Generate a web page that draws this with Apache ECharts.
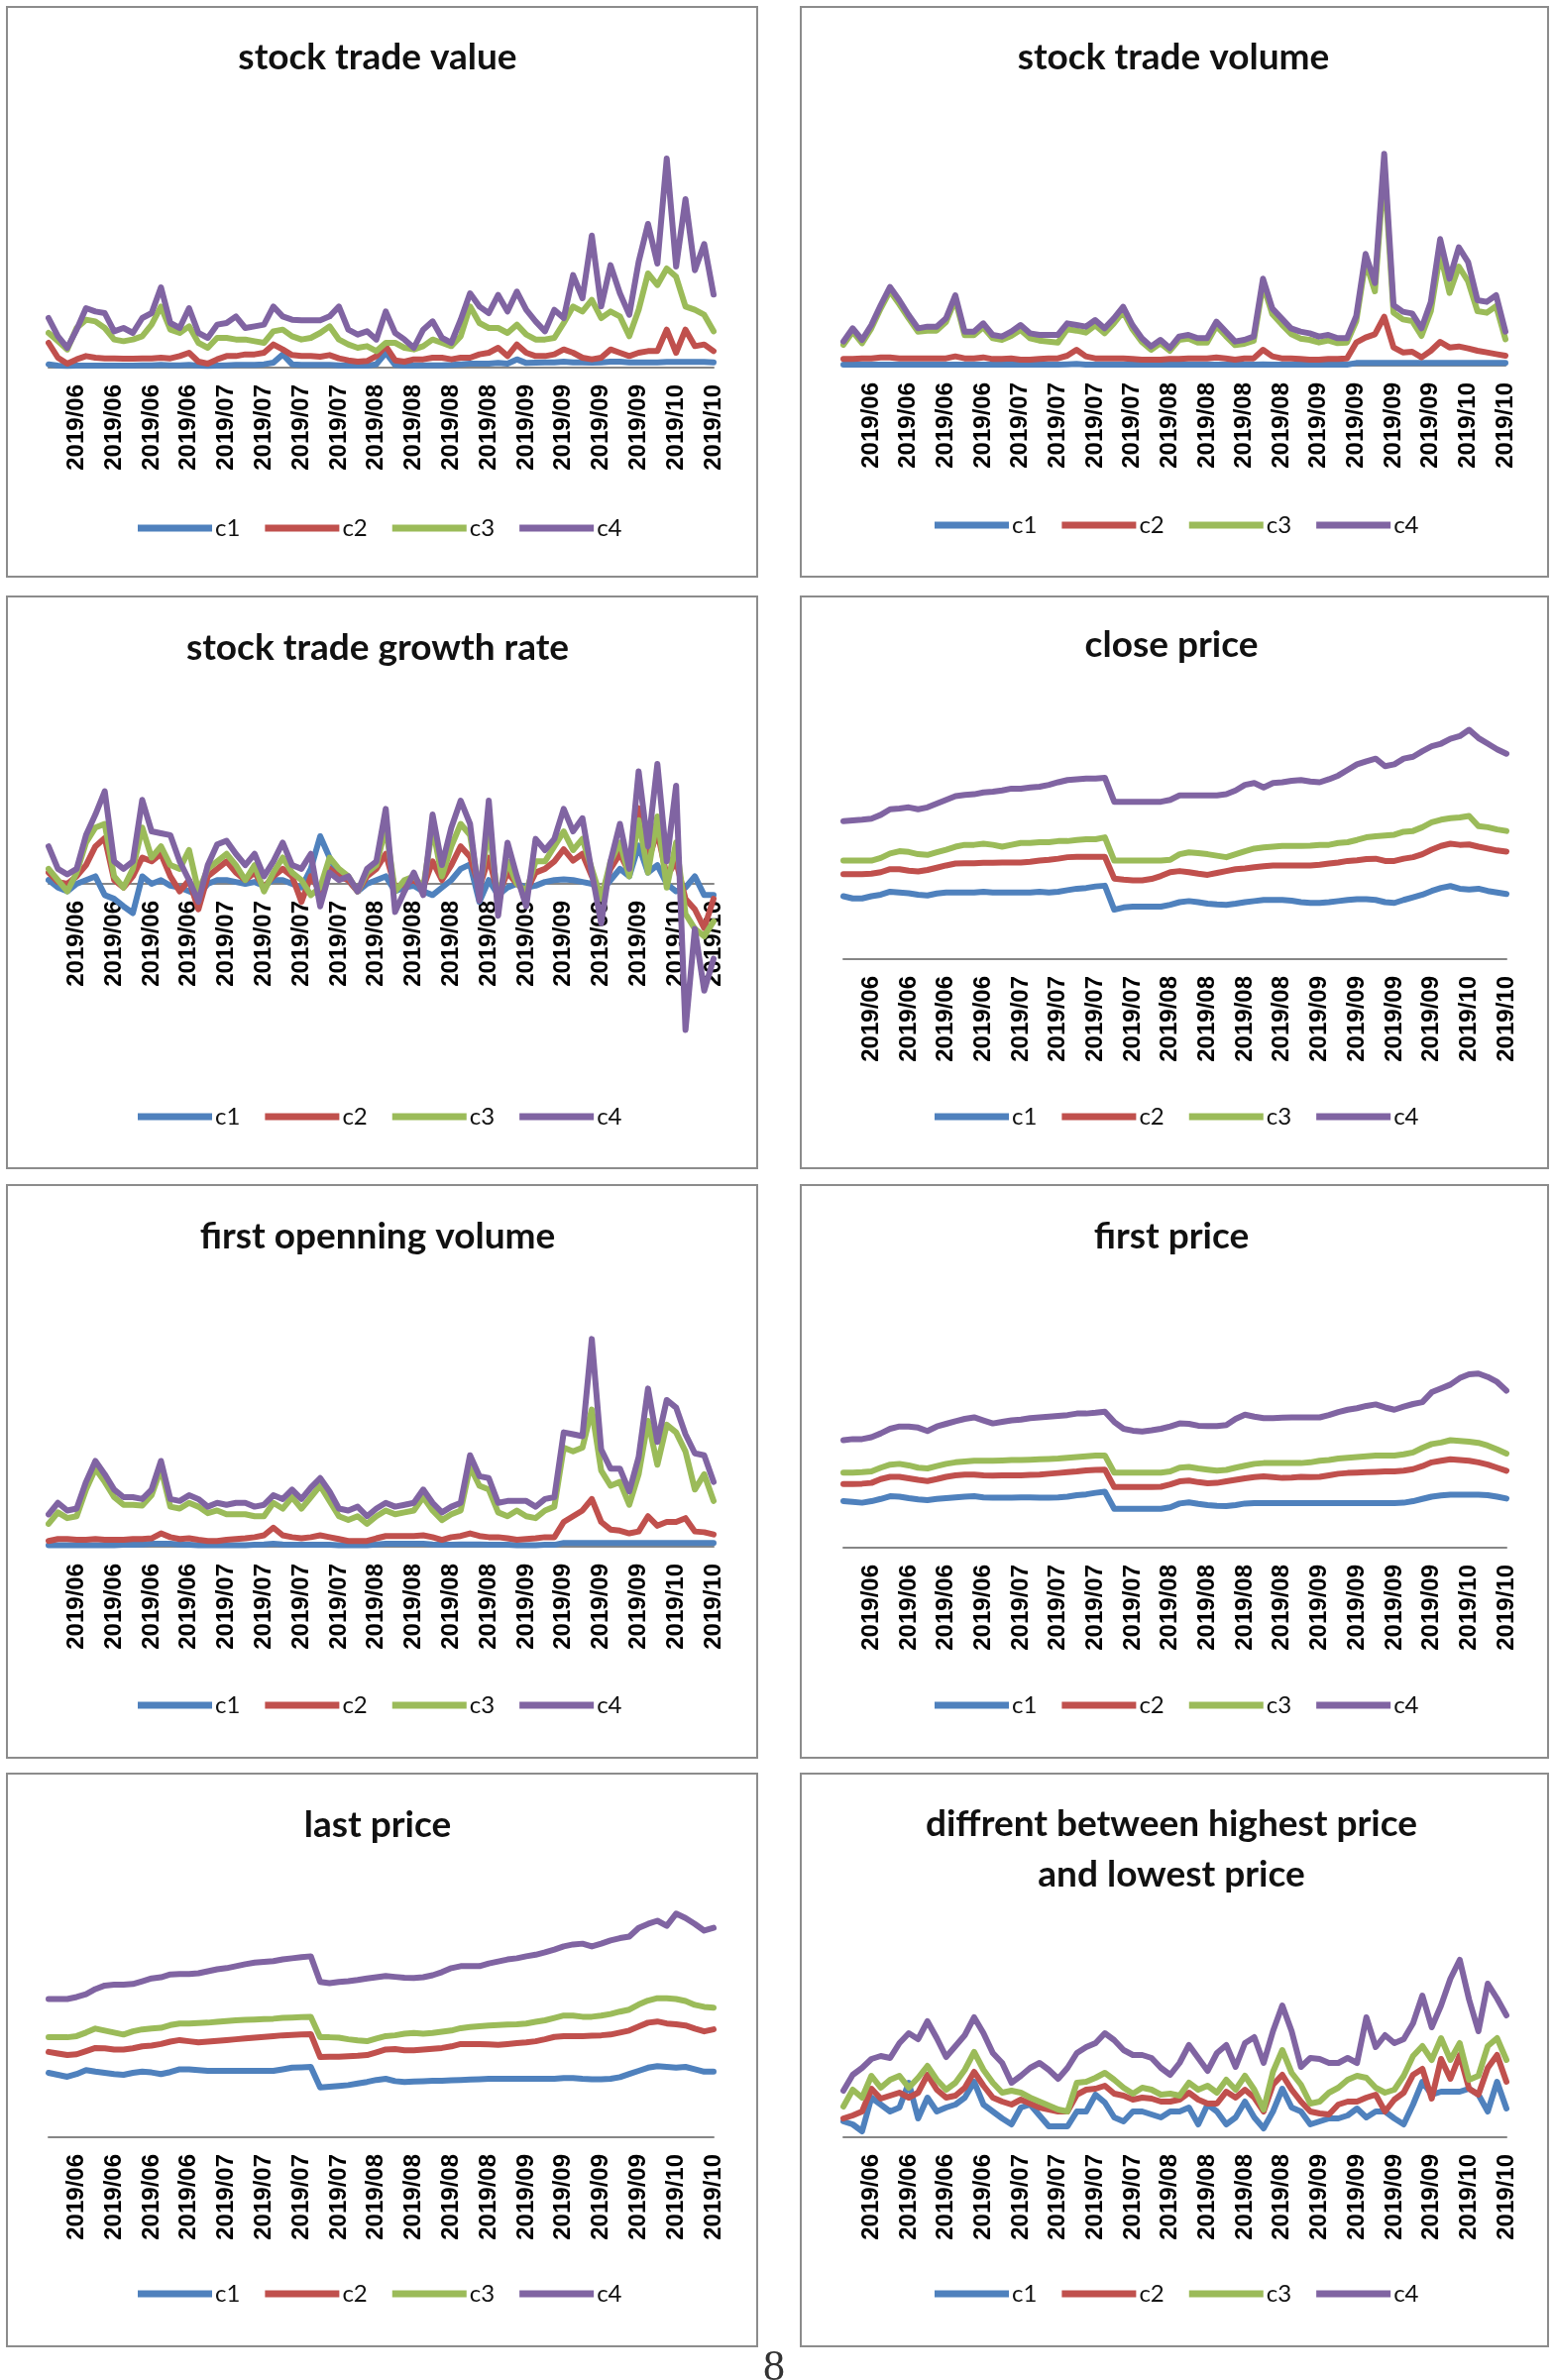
<!DOCTYPE html>
<html>
<head>
<meta charset="utf-8">
<script src="https://cdn.jsdelivr.net/npm/echarts@6/dist/echarts.min.js"></script>
<style>
html,body{margin:0;padding:0;background:#fff;}
#chart{width:1568px;height:2402px;}
</style>
</head>
<body>
<div id="chart"></div>
<script>
// ---------- tick labels & series names ----------
const tickLabels = ['2019/06','2019/06','2019/06','2019/06','2019/07','2019/07','2019/07','2019/07','2019/08','2019/08','2019/08','2019/08','2019/09','2019/09','2019/09','2019/09','2019/10','2019/10'];
const seriesNames = ['c1','c2','c3','c4'];

// ---------- stock trade value ----------
const tradeValueC1 = [10,6,5,6,6,6,6,6,6,6, 7,7,8,7,7,8,6,5,6,7, 8,8,8,10,15,40,10,8,8,8, 8,7,6,6,6,10,45,8,6,6, 7,7,7,8,10,12,12,12,14,12, 25,14,15,16,16,18,16,16,15,16, 18,18,16,16,16,16,17,17,17,17, 17,16];
const tradeValueC2 = [75,30,12,25,35,30,28,28,27,27, 28,28,30,28,35,45,18,12,25,35, 35,40,40,45,70,55,38,35,35,33, 38,28,22,18,20,35,65,22,18,25, 25,30,30,25,30,30,40,45,60,35, 70,45,35,35,40,55,45,30,25,30, 55,45,35,45,50,50,115,45,115,65, 70,50];
const tradeValueC3 = [105,80,55,120,145,140,120,85,80,85, 95,130,185,115,105,125,75,60,90,90, 85,85,80,75,110,115,95,85,90,105, 125,85,70,60,65,50,75,75,60,55, 65,85,75,65,95,185,135,120,120,105, 130,100,85,85,90,135,185,170,205,150, 170,155,95,175,285,250,300,275,185,175, 160,110];
const tradeValueC4 = [150,95,60,115,180,170,165,110,120,105, 150,165,243,135,120,180,105,90,130,135, 155,120,125,130,185,155,145,143,143,143, 155,185,115,100,110,85,170,105,85,60, 115,140,90,75,145,225,185,165,220,170, 230,175,140,110,175,150,280,210,400,185, 310,225,160,320,435,315,633,306,510,295, 374,221];

// ---------- stock trade volume ----------
const tradeVolumeC1 = [3,3,3,3,3,3,3,3,3,3, 3,3,3,3,3,3,3,3,3,3, 3,3,3,3,4,5,3,3,3,3, 3,3,3,3,3,3,3,3,3,3, 3,3,3,3,3,4,3,3,3,3, 3,3,3,3,3,8,8,8,8,8, 8,8,8,8,8,8,8,8,8,8, 8,8];
const tradeVolumeC2 = [20,20,22,22,25,25,22,22,22,22, 22,22,28,22,22,25,20,20,22,18, 18,20,22,22,30,48,28,22,22,22, 22,20,18,18,18,20,20,22,22,22, 25,22,18,22,22,48,28,22,22,20, 18,18,20,20,22,70,85,95,148,55, 40,42,25,45,72,55,58,52,45,40, 35,30];
const tradeVolumeC3 = [63,103,68,113,173,226,186,143,103,106, 106,132,200,92,92,116,83,78,90,108, 83,76,73,70,110,106,100,122,98,128, 163,110,72,48,68,45,78,82,70,70, 120,90,62,66,75,245,156,125,96,82, 78,70,76,68,70,135,315,225,600,160, 140,135,90,165,340,220,300,255,165,160, 180,80];
const tradeVolumeC4 = [73,113,78,123,183,238,198,153,113,118, 118,143,213,103,103,128,93,88,103,123, 98,93,93,93,128,123,118,138,113,143, 178,123,83,58,78,53,88,93,83,83, 133,103,73,78,88,263,173,143,113,103, 98,88,93,83,83,150,338,250,641,183, 163,158,113,193,383,263,358,313,198,193, 213,103];

// ---------- stock trade growth rate ----------
const growthRateC1 = [10,-10,-20,0,10,20,-30,-40,-60,-78, 20,0,10,-5,-10,-20,-30,0,10,10, 5,0,5,-5,10,10,0,-10,40,127, 70,20,10,-20,0,10,20,-20,-10,-5, -20,-30,-10,10,40,52,-48,10,-30,-10, 0,-10,-5,5,10,12,10,5,0,-20, 10,40,20,102,30,50,0,-20,-10,20, -30,-30];
const growthRateC2 = [30,5,0,20,50,100,122,10,-10,20, 70,60,80,20,-20,10,-68,20,40,60, 30,10,30,-10,20,40,20,-48,20,-20, 40,20,10,-20,20,40,80,-10,0,10, -10,60,10,50,100,72,-10,70,-30,30, 0,-20,30,40,60,92,62,80,20,-30, 40,80,30,202,60,140,20,60,-40,-68, -118,-40];
const growthRateC3 = [40,10,-20,30,110,150,160,20,-10,40, 150,70,100,50,40,90,-20,40,60,80, 50,10,50,-20,30,70,30,10,-30,-10, 70,40,20,-20,30,50,150,-20,10,20, -10,150,20,100,160,130,-20,150,-40,60, 0,-20,60,60,100,140,90,120,40,-40, 60,110,20,170,30,180,-10,110,-80,-120, -140,-100];
const growthRateC4 = [100,40,25,40,130,185,247,60,40,60, 224,140,135,130,60,10,-48,50,105,115, 80,50,80,20,60,110,50,40,80,-60, 30,10,20,-20,40,60,200,-75,-20,30, -30,185,50,150,222,160,-45,222,-85,110, 20,-60,120,90,120,200,140,175,30,-105, 60,160,40,300,100,320,60,262,-390,-120, -285,-200];

// ---------- close price ----------
const closePriceC1 = [168,162,162,168,172,180,178,176,172,170, 175,178,178,178,178,180,178,178,178,178, 178,180,178,180,184,188,190,194,196,132, 138,140,140,140,140,145,152,155,152,148, 146,145,148,152,155,158,158,158,156,152, 150,150,152,155,158,160,160,158,152,150, 158,165,172,182,190,195,188,186,188,182, 178,174];
const closePriceC2 = [227,227,227,228,232,240,240,236,234,238, 244,250,255,256,256,257,257,258,258,258, 260,263,265,268,272,273,273,273,273,215, 212,210,210,214,222,232,235,232,228,225, 230,235,240,242,245,248,250,250,250,250, 250,252,255,258,262,264,267,268,262,262, 268,272,280,292,302,308,305,306,300,295, 290,287];
const closePriceC3 = [263,263,263,263,270,282,288,286,280,278, 285,292,300,305,305,308,305,300,305,310, 310,312,312,315,315,318,320,320,325,263, 263,263,263,263,263,265,280,285,283,280, 276,272,280,288,295,298,300,302,302,302, 303,305,305,310,312,318,325,328,330,332, 340,342,352,365,372,376,378,382,355,352, 346,342];
const closePriceC4 = [368,370,372,375,385,400,402,405,400,405, 415,425,435,438,440,445,447,450,455,455, 458,460,465,472,478,480,482,482,484,420, 420,420,420,420,420,425,437,437,437,437, 437,440,450,465,470,458,470,472,476,478, 474,472,480,490,505,520,528,535,515,520, 535,540,555,568,575,588,595,612,590,575, 560,548];

// ---------- first openning volume ----------
const openVolumeC1 = [4,4,4,4,4,4,4,4,5,5, 6,8,8,8,6,5,4,4,4,4, 4,4,5,6,8,6,5,5,5,5, 5,4,4,4,4,6,8,8,8,8, 8,6,5,5,6,6,6,5,5,5, 4,4,4,5,5,10,10,10,10,10, 10,10,10,10,10,10,10,10,10,10, 10,10];
const openVolumeC2 = [15,20,20,18,18,20,18,18,18,20, 20,22,35,25,20,22,18,15,15,18, 20,22,25,30,50,30,25,22,25,30, 25,20,15,15,15,22,28,28,28,28, 30,25,18,25,28,35,28,25,25,22, 18,20,22,25,25,65,80,95,125,65, 45,42,35,40,80,55,65,65,75,40, 38,32];
const openVolumeC3 = [60,90,75,80,150,205,170,130,110,110, 108,135,205,105,100,115,105,88,95,85, 85,85,80,80,115,100,130,100,130,160, 120,80,70,80,60,80,95,85,90,95, 130,95,70,85,95,210,160,150,90,80, 95,80,75,95,105,260,250,260,360,200, 160,170,110,190,330,215,320,300,250,150, 190,120];
const openVolumeC4 = [85,115,95,100,170,225,190,150,130,130, 125,150,225,125,120,135,125,105,115,110, 115,115,105,110,135,125,150,125,155,180, 145,100,95,105,80,100,115,105,110,115, 150,115,90,105,115,240,185,180,115,120, 120,120,105,125,130,300,295,290,545,255, 205,205,145,235,415,275,385,365,295,245, 240,170];

// ---------- first price ----------
const firstPriceC1 = [122,120,118,122,128,135,134,130,127,125, 128,130,132,134,135,132,131,131,131,132, 132,131,131,132,134,138,140,144,147,102, 102,102,102,102,102,106,116,119,115,112, 110,109,112,116,117,117,117,117,117,117, 117,117,117,117,117,117,117,117,117,117, 118,122,128,134,137,139,139,139,139,138, 134,129];
const firstPriceC2 = [167,167,168,170,180,186,186,182,178,175, 180,186,190,192,192,190,189,190,190,190, 191,192,194,196,198,200,203,204,205,159, 159,159,159,159,160,166,174,176,172,169, 170,174,178,182,185,187,185,183,184,186, 185,186,190,194,196,197,198,199,200,200, 202,206,214,224,228,232,230,228,224,218, 210,202];
const firstPriceC3 = [197,197,198,200,210,218,220,216,210,208, 214,220,224,226,228,228,228,229,230,230, 231,232,233,234,236,238,240,242,242,197, 197,197,197,197,197,200,210,212,208,205, 202,204,210,215,220,222,222,222,222,222, 224,228,230,234,236,238,240,242,242,242, 245,250,262,272,276,282,280,278,275,268, 258,247];
const firstPriceC4 = [282,285,285,290,300,312,318,318,315,306, 318,325,332,338,342,334,326,330,334,336, 340,342,344,346,348,352,352,354,357,330, 312,307,305,308,312,318,326,325,320,319, 319,322,338,349,344,340,340,341,342,342, 342,342,348,356,362,366,372,376,368,362, 370,377,382,408,418,428,445,455,457,448, 435,412];

// ---------- last price ----------
const lastPriceC1 = [163,158,153,160,170,166,163,160,158,163, 166,164,160,165,172,172,170,168,168,168, 168,168,168,168,168,172,176,177,178,126, 128,130,132,136,140,145,148,142,140,141, 142,143,143,144,145,146,147,148,148,148, 148,148,148,148,148,150,150,148,147,147, 148,152,160,168,176,180,178,176,178,172, 166,166];
const lastPriceC2 = [216,212,208,210,218,226,225,222,222,225, 230,232,236,242,246,243,240,242,244,246, 248,250,252,254,256,258,259,260,261,203, 204,204,205,206,208,215,222,223,220,220, 222,224,226,230,236,236,236,235,234,236, 238,240,243,248,254,256,256,256,257,258, 260,265,270,280,290,293,288,286,283,275, 268,273];
const lastPriceC3 = [253,253,253,256,265,275,270,265,260,268, 273,275,277,284,288,288,289,290,292,294, 296,297,298,299,300,302,303,304,305,253, 253,252,248,245,243,250,256,258,262,264, 262,264,267,270,276,279,281,283,284,285, 286,288,292,296,302,308,308,305,305,308, 312,318,323,336,346,352,352,350,345,335, 330,328];
const lastPriceC4 = [350,350,350,355,362,375,384,386,386,388, 395,402,405,412,413,413,415,420,425,428, 433,438,442,444,446,450,453,456,458,393, 390,393,395,398,402,405,408,406,404,403, 405,410,418,428,433,433,433,440,445,450, 453,458,462,468,475,483,488,490,483,490, 498,504,508,530,540,548,535,566,555,540, 523,530];

// ---------- difference between highest and lowest price ----------
const highLowC1 = [16,13,6,40,33,26,30,55,19,40, 26,30,33,40,56,33,26,19,13,30, 33,22,11,11,11,26,26,43,35,20, 16,26,26,23,20,26,26,30,13,33, 26,13,20,36,20,9,26,49,30,26, 13,16,19,19,22,29,20,26,26,19, 13,33,56,43,46,46,46,49,43,26, 56,29];
const highLowC2 = [19,22,26,49,39,42,45,40,45,63, 48,40,42,50,66,52,40,36,33,38, 34,30,28,26,26,43,48,49,52,44, 42,38,40,39,36,36,38,45,38,34, 34,46,40,48,40,26,53,63,48,36, 26,24,23,33,36,36,40,43,26,38, 45,63,69,39,79,59,83,49,43,70, 83,56];
const highLowC3 = [31,48,40,62,50,58,62,50,60,72, 58,48,55,68,86,68,55,45,47,45, 40,36,32,28,26,55,56,60,65,58, 50,44,50,48,43,44,42,55,48,52, 45,58,48,62,48,28,66,88,65,53, 34,36,45,50,58,62,60,50,45,48, 62,82,92,78,100,78,95,58,62,92, 100,78];
const highLowC4 = [47,63,70,79,82,80,95,105,99,117, 100,81,92,103,121,105,85,75,55,62, 70,75,68,59,70,85,91,95,105,98, 88,83,83,80,70,63,75,93,80,67, 85,93,71,95,101,75,107,133,107,71, 80,79,75,75,80,75,121,91,103,95, 99,115,143,111,133,160,179,139,107,155, 140,123];

// ---------- layout (positions only, no data) ----------
const W = 1568, H = 2402;
const panels = [
  {title:'stock trade value', box:[7,7,757,575], cx:381, ty:58, x0:49, x1:720, axisY:371, up:240, down:0, unit:3, lx:139, ly:533,
   data:[tradeValueC1,tradeValueC2,tradeValueC3,tradeValueC4]},
  {title:'stock trade volume', box:[808,7,754,575], cx:1184, ty:58, x0:851, x1:1519, axisY:369, up:240, down:0, unit:3, lx:943, ly:530,
   data:[tradeVolumeC1,tradeVolumeC2,tradeVolumeC3,tradeVolumeC4]},
  {title:'stock trade growth rate', box:[7,602,757,577], cx:381, ty:654, x0:49, x1:720, axisY:892, up:140, down:160, unit:2.644, lx:139, ly:1127,
   data:[growthRateC1,growthRateC2,growthRateC3,growthRateC4]},
  {title:'close price', box:[808,602,754,577], cx:1182, ty:651, x0:851, x1:1520, axisY:968, up:240, down:0, unit:2.644, lx:943, ly:1127,
   data:[closePriceC1,closePriceC2,closePriceC3,closePriceC4]},
  {title:'first openning volume', box:[7,1196,757,578], cx:381, ty:1248, x0:49, x1:720, axisY:1561, up:240, down:0, unit:2.6, lx:139, ly:1721,
   data:[openVolumeC1,openVolumeC2,openVolumeC3,openVolumeC4]},
  {title:'first price', box:[808,1196,754,578], cx:1182, ty:1248, x0:851, x1:1520, axisY:1562, up:240, down:0, unit:2.6, lx:943, ly:1721,
   data:[firstPriceC1,firstPriceC2,firstPriceC3,firstPriceC4]},
  {title:'last price', box:[7,1790,757,578], cx:381, ty:1842, x0:49, x1:720, axisY:2157, up:240, down:0, unit:2.508, lx:139, ly:2315,
   data:[lastPriceC1,lastPriceC2,lastPriceC3,lastPriceC4]},
  {title:'diffrent between highest price\nand lowest price', box:[808,1790,754,578], cx:1182, ty:1867, x0:851, x1:1520, axisY:2157, up:220, down:0, unit:1, lx:943, ly:2315,
   data:[highLowC1,highLowC2,highLowC3,highLowC4]}
];

const colors = ['#4F81BD','#C0504D','#9BBB59','#8064A2'];
const nPts = tradeValueC1.length;
const categories = Array.from({length:nPts}, (_, i) => tickLabels[Math.min(tickLabels.length - 1, Math.floor(i / 4))]);

const option = {
  backgroundColor:'#ffffff',
  animation:false,
  color: colors,
  title: [], legend: [], grid: [], xAxis: [], yAxis: [], series: [],
  graphic: []
};

panels.forEach((p, k) => {
  const twoLine = p.title.indexOf('\n') >= 0;
  const lh = twoLine ? 51 : 44;
  const nLines = twoLine ? 2 : 1;
  option.title.push({
    text: p.title,
    left: p.cx, top: p.ty - lh * nLines / 2,
    textAlign: 'center',
    padding: 0,
    textStyle: {fontFamily:'Lato', fontWeight:'bold', fontSize:37, color:'#111', lineHeight: lh}
  });
  option.legend.push({
    data: seriesNames,
    left: p.lx, top: p.ly - 12,
    orient: 'horizontal',
    icon: 'rect',
    itemWidth: 75, itemHeight: 7, itemGap: 25,
    padding: 0,
    selectedMode: false,
    textStyle: {fontFamily:'Lato', fontSize:24, color:'#111', lineHeight:24, padding:[0,0,0,-2]}
  });
  option.grid.push({
    left: p.x0, right: W - p.x1,
    top: p.axisY - p.up, bottom: H - (p.axisY + p.down),
    containLabel: false
  });
  option.xAxis.push({
    type: 'category', gridIndex: k, data: categories, boundaryGap: false,
    position: 'bottom',
    offset: -p.down,
    axisLine: {show:true, onZero:false, lineStyle:{color:'#868686', width:2}},
    axisTick: {show:false},
    splitLine: {show:false},
    axisLabel: {
      rotate: 90, margin: 17,
      interval: (i) => i % 4 === 3,
      formatter: (v, i) => tickLabels[(i - 3) / 4],
      fontFamily: 'Liberation Sans', fontSize: 24, fontWeight: 'bold', color: '#000'
    },
    z: 1
  });
  option.yAxis.push({
    type: 'value', gridIndex: k, show: false,
    min: -p.down * p.unit, max: p.up * p.unit,
    splitLine: {show:false}
  });
  p.data.forEach((arr, s) => {
    option.series.push({
      type: 'line', name: seriesNames[s], xAxisIndex: k, yAxisIndex: k,
      data: arr, symbol: 'none', showSymbol: false,
      lineStyle: {color: colors[s], width: 6, cap:'round', join:'round'},
      itemStyle: {color: colors[s]},
      silent: true, z: 3
    });
  });
  option.graphic.push({
    type: 'rect',
    shape: {x: p.box[0], y: p.box[1], width: p.box[2], height: p.box[3]},
    style: {fill: 'none', stroke: '#8C8C8C', lineWidth: 2},
    silent: true, z: 0
  });
});

option.graphic.push({
  type: 'text', left: 770, top: 2368,
  style: {text: '8', font: '44px "Liberation Serif"', fill: '#333'},
  silent: true
});

const chart = echarts.init(document.getElementById('chart'), null, {renderer:'canvas', width:W, height:H});
chart.setOption(option);
</script>
</body>
</html>
